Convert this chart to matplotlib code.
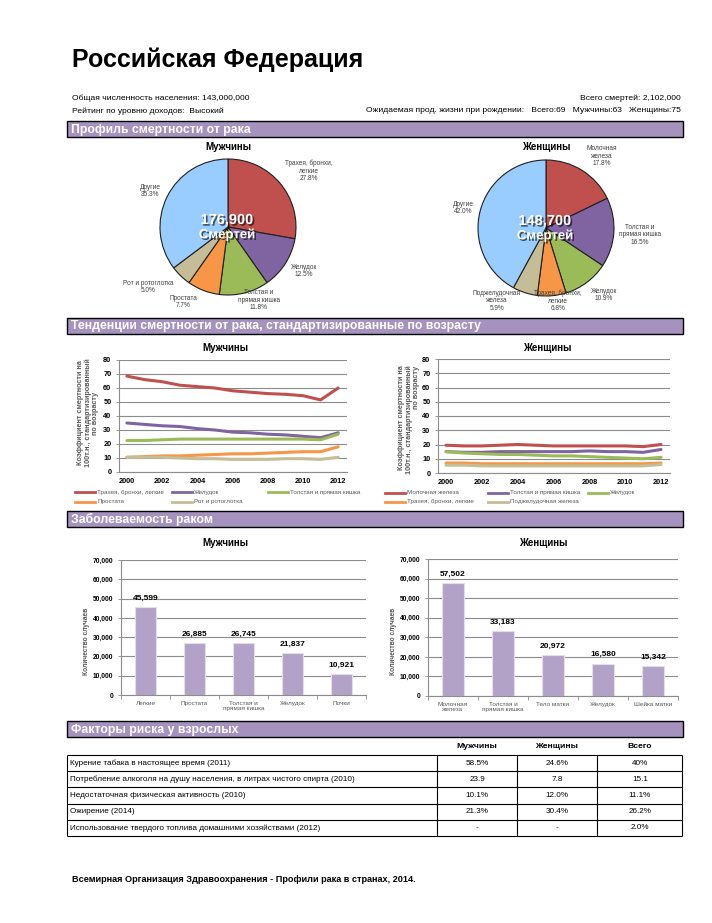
"""
Профиль рака: Российская Федерация (ВОЗ, 2014)
Layout is placed in pixel coordinates of a 712x923 page
"""

import numpy as np
import matplotlib.pyplot as plt
import matplotlib.patheffects as pe
from matplotlib.patches import Rectangle
from matplotlib.lines import Line2D

plt.rcParams['font.family'] = ['Liberation Sans', 'DejaVu Sans']

# ---------------- data ----------------
years = list(range(2000, 2013))

pie_men_labels = ['Трахея, бронхи,\nлегкие', 'Желудок', 'Толстая и\nпрямая кишка',
                  'Простата', 'Рот и ротоглотка', 'Другие']
pie_men_values = [27.8, 12.5, 11.8, 7.7, 5.0, 35.3]
pie_men_total = '176,900'

pie_women_labels = ['Молочная\nжелеза', 'Толстая и\nпрямая кишка', 'Желудок',
                    'Трахея, бронхи,\nлегкие', 'Поджелудочная\nжелеза', 'Другие']
pie_women_values = [17.8, 16.5, 10.9, 6.8, 5.9, 42.0]
pie_women_total = '148,700'

trend_men_names = ['Трахея, бронхи, легкие', 'Желудок', 'Толстая и прямая кишка',
                   'Простата', 'Рот и ротоглотка']
trend_men = [
    [68.5, 66, 64.5, 62, 61, 60, 58, 57, 56, 55.5, 54.5, 51.5, 60],
    [35, 34, 33, 32.5, 31, 30, 28.5, 28, 27, 26.5, 25.5, 24.5, 28],
    [22.5, 22.5, 23, 23.5, 23.5, 23.5, 23.5, 23.5, 23.5, 23.5, 23.5, 23, 27],
    [10.5, 11, 11.5, 11.5, 12, 12.5, 13, 13, 13.5, 14, 14.5, 14.5, 18],
    [10.5, 10.5, 10.5, 10, 9.5, 9.5, 9, 9, 9, 9.5, 9.5, 9, 10.5],
]

trend_women_names = ['Молочная железа', 'Толстая и прямая кишка', 'Желудок',
                     'Трахея, бронхи, легкие', 'Поджелудочная железа']
trend_women = [
    [19.5, 19, 19, 19.5, 20, 19.5, 19, 19, 19, 19, 19, 18.5, 20],
    [15, 14.5, 14.5, 15, 15, 15, 15, 15, 15.5, 15, 15, 14.5, 16.5],
    [15, 14, 13.5, 13, 13, 12.5, 12, 12, 11.5, 11, 10.5, 10, 11],
    [7, 7, 6.5, 6.5, 6.5, 6.5, 6.5, 6.5, 6.5, 6.5, 6.5, 6.5, 7],
    [5.5, 5.5, 5, 5, 5, 5, 5, 5, 5, 5, 5, 5, 6],
]

inc_men_labels = ['Легкие', 'Простата', 'Толстая и\nпрямая кишка', 'Желудок', 'Почки']
inc_men_values = [45599, 26885, 26745, 21837, 10921]
inc_women_labels = ['Молочная\nжелеза', 'Толстая и\nпрямая кишка', 'Тело матки',
                    'Желудок', 'Шейка матки']
inc_women_values = [57502, 33183, 20972, 16580, 15342]

risk_factors = ['Курение табака в настоящее время (2011)',
                'Потребление алкоголя на душу населения, в литрах чистого спирта (2010)',
                'Недостаточная физическая активность (2010)',
                'Ожирение (2014)',
                'Использование твердого топлива домашними хозяйствами (2012)']
risk_men = ['58.5%', '23.9', '10.1%', '21.3%', '-']
risk_women = ['24.6%', '7.8', '12.0%', '30.4%', '-']
risk_total = ['40%', '15.1', '11.1%', '26.2%', '2.0%']

# ---------------- styles ----------------
slice_colors = ['#C0504D', '#8064A2', '#9BBB59', '#F79646', '#C4BD97', '#99CCFF']
line_colors = ['#C0504D', '#8064A2', '#9BBB59', '#F79646', '#C4BD97']
header_color = '#A692BF'
bar_color = '#B3A2C7'
grid_color = '#8C8C8C'
gray_text = '#404040'

W, H = 712, 923
fig = plt.figure(figsize=(W / 100, H / 100), dpi=100)


def px_axes(x0, y0, x1, y1):
    return fig.add_axes([x0 / W, 1 - y1 / H, (x1 - x0) / W, (y1 - y0) / H])


def ftext(x, y, s, **kw):
    kw.setdefault('va', 'center')
    return fig.text(x / W, 1 - y / H, s, **kw)


def header(y0, y1, title):
    fig.add_artist(Rectangle((67 / W, 1 - y1 / H), 616 / W, (y1 - y0) / H,
                             transform=fig.transFigure, facecolor=header_color,
                             edgecolor='black', linewidth=1.0))
    ftext(71, (y0 + y1) / 2 + 0.5, title, color='white', fontsize=8.8, weight='bold')


# ---------------- top block ----------------
ftext(72, 60, 'Российская Федерация', fontsize=18, weight='bold')
ftext(72, 98, 'Общая численность населения: 143,000,000', fontsize=6.1)
ftext(681, 98, 'Всего смертей: 2,102,000', fontsize=6.1, ha='right')
ftext(72, 111, 'Рейтинг по уровню доходов:  Высокий', fontsize=6.1)
ftext(681, 111, 'Ожидаемая прод. жизни при рождении:   Всего:69   Мужчины:63   Женщины:75',
      fontsize=6.1, ha='right')

header(121, 137, 'Профиль смертности от рака')
header(318, 334, 'Тенденции смертности от рака, стандартизированные по возрасту')
header(511, 527, 'Заболеваемость раком')
header(721, 737, 'Факторы риска у взрослых')


# ---------------- pies ----------------
def draw_pie(cx, cy, r, title, values, labels, label_pos, total):
    ax = px_axes(cx - r - 2, cy - r - 2, cx + r + 2, cy + r + 2)
    ax.pie(values, colors=slice_colors, startangle=90, counterclock=False,
           wedgeprops=dict(edgecolor='#202020', linewidth=0.8))
    lim = (r + 2) / r
    ax.set_xlim(-lim, lim)
    ax.set_ylim(-lim, lim)
    ax.axis('off')
    ftext(cx, 147, title, ha='center', fontsize=7, weight='bold')
    for lab, v, (lx, ly) in zip(labels, values, label_pos):
        ftext(lx, ly, f'{lab}\n{v:.1f}%', ha='center', fontsize=4.7,
              color=gray_text, linespacing=1.1)
    shadow = [pe.withSimplePatchShadow(offset=(1.2, -1.2), shadow_rgbFace='black', alpha=0.6)]
    ftext(cx - 1, cy - 7, total, ha='center', color='white', fontsize=10.5,
          weight='bold', path_effects=shadow)
    ftext(cx - 1, cy + 8, 'Смертей', ha='center', color='white', fontsize=9.5,
          weight='bold', path_effects=shadow)


draw_pie(228, 227, 68, 'Мужчины', pie_men_values, pie_men_labels,
         [(309, 171), (304, 271), (259, 300), (183, 302), (148, 287), (150, 191)],
         pie_men_total)
draw_pie(546, 228, 68, 'Женщины', pie_women_values, pie_women_labels,
         [(602, 156), (640, 235), (604, 295), (558, 301), (497, 301), (463, 208)],
         pie_women_total)


# ---------------- trend lines ----------------
def style_axes(ax, size):
    for s in ('top', 'right'):
        ax.spines[s].set_visible(False)
    for s in ('left', 'bottom'):
        ax.spines[s].set_color(grid_color)
        ax.spines[s].set_linewidth(0.8)
    ax.grid(axis='y', color=grid_color, linewidth=0.8)
    ax.set_axisbelow(True)
    ax.tick_params(colors=grid_color, labelcolor='black', labelsize=size, length=2, width=0.6)
    for t in ax.get_xticklabels() + ax.get_yticklabels():
        t.set_fontweight('bold')


def draw_trend(box, title, tx, names, series, ylab_x, ylab_y, ylab_align,
               leg_cols, leg_rows):
    ax = px_axes(*box)
    for vals, c in zip(series, line_colors):
        ax.plot(years, vals, color=c, linewidth=2.2, solid_capstyle='round')
    ax.set_xlim(1999.55, 2012.5)
    ax.set_ylim(0, 80)
    ax.set_yticks(range(0, 81, 10))
    ax.set_xticks(range(2000, 2013, 2))
    style_axes(ax, 5.3)
    ax.tick_params(axis='x', length=0, pad=4)
    ftext(tx, 348, title, ha='center', fontsize=7, weight='bold')
    ftext(ylab_x, ylab_y,
          'Коэффициент смертности на\n100т.н., стандартизированный\nпо возрасту',
          ha='center', rotation=90, fontsize=5.2, color='#595959', weight='bold',
          multialignment=ylab_align, linespacing=1.05)
    # legend, row-major in three columns
    for i, (n, c) in enumerate(zip(names, line_colors)):
        lx = leg_cols[i % 3]
        ly = leg_rows[i // 3]
        fig.add_artist(Line2D([lx / W, (lx + 20) / W], [1 - ly / H, 1 - ly / H],
                              transform=fig.transFigure, color=c, linewidth=2.0))
        ftext(lx + 22, ly, n, fontsize=4.5, color='#595959')


draw_trend((119, 360, 347, 472), 'Мужчины', 225, trend_men_names, trend_men,
           88, 413, 'center', [75, 172, 268], [492, 502])
draw_trend((438, 359, 670, 473), 'Женщины', 547, trend_women_names, trend_women,
           409, 420, 'right', [385, 488, 588], [493, 502])


# ---------------- incidence bars ----------------
def draw_bars(box, title, tx, labels, values, ylab_x):
    ax = px_axes(*box)
    x = np.arange(len(values))
    ax.bar(x, values, width=0.43, color=bar_color, edgecolor='#E4DDEC', linewidth=0.8)
    ax.set_xlim(-0.5, len(values) - 0.5)
    ax.set_ylim(0, 70000)
    ax.set_yticks(range(0, 70001, 10000))
    ax.set_yticklabels([f'{v:,}' for v in range(0, 70001, 10000)])
    ax.set_xticks(x)
    ax.set_xticklabels(labels, linespacing=1.05)
    ax.set_xticks(np.arange(len(values) + 1) - 0.5, minor=True)
    style_axes(ax, 4.8)
    ax.tick_params(axis='x', which='major', length=0, labelsize=4.6, labelcolor='#595959', pad=4)
    ax.tick_params(axis='x', which='minor', length=3, color=grid_color, width=0.6)
    for t in ax.get_xticklabels():
        t.set_fontweight('normal')
    for xi, v in zip(x, values):
        ax.annotate(f'{v:,}', (xi, v), xytext=(0, 6.5), textcoords='offset points',
                    ha='center', va='center', fontsize=6, weight='bold')
    ftext(tx, 543, title, ha='center', fontsize=7, weight='bold')
    ftext(ylab_x, 641, 'Количество случаев', ha='center', rotation=90,
          fontsize=4.8, color='#595959', weight='bold')


draw_bars((121, 560, 366, 695), 'Мужчины', 225, inc_men_labels, inc_men_values, 87)
draw_bars((428, 559, 678, 696), 'Женщины', 543, inc_women_labels, inc_women_values, 393)


# ---------------- risk factor table ----------------
col_edges = [67, 437, 517, 597, 682]
col_centers = [477, 557, 640]
ax = px_axes(67, 755, 682, 836)
ax.set_xlim(67, 682)
ax.set_ylim(len(risk_factors), 0)
ax.axis('off')
for r in range(len(risk_factors) + 1):
    ax.hlines(r, col_edges[0], col_edges[-1], color='black', linewidth=0.8, clip_on=False)
ax.vlines(col_edges, 0, len(risk_factors), color='black', linewidth=0.8, clip_on=False)
for r, name in enumerate(risk_factors):
    ax.text(70, r + 0.5, name, va='center', fontsize=5.85)
    for cx, val in zip(col_centers, (risk_men[r], risk_women[r], risk_total[r])):
        ax.text(cx, r + 0.5, val, va='center', ha='center', fontsize=5.85)
for cx, h in zip(col_centers, ['Мужчины', 'Женщины', 'Всего']):
    ftext(cx, 747, h, ha='center', fontsize=6.1, weight='bold')

ftext(72, 879, 'Всемирная Организация Здравоохранения - Профили рака в странах, 2014.',
      fontsize=6.6, weight='bold')

plt.savefig('out.png', dpi=100)
